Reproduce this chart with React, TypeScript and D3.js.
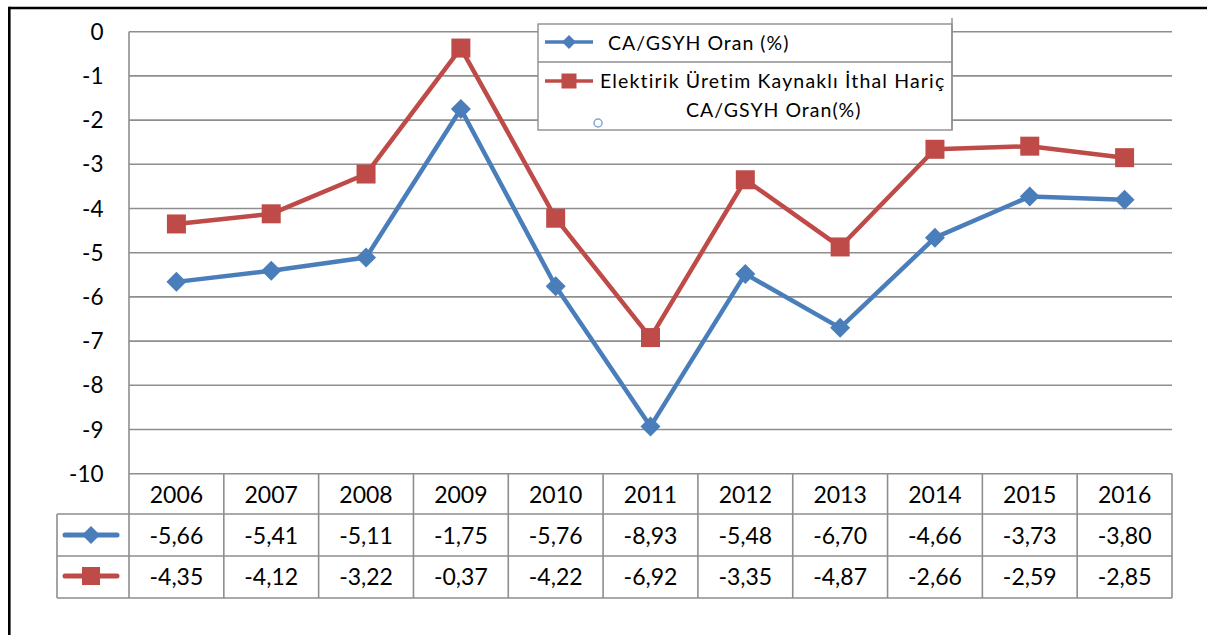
import React from "react";
import * as d3 from "d3";

const years = ["2006", "2007", "2008", "2009", "2010", "2011", "2012", "2013", "2014", "2015", "2016"];
const caValues = [-5.66, -5.41, -5.11, -1.75, -5.76, -8.93, -5.48, -6.7, -4.66, -3.73, -3.8];
const exclValues = [-4.35, -4.12, -3.22, -0.37, -4.22, -6.92, -3.35, -4.87, -2.66, -2.59, -2.85];
const yTicks = [0, -1, -2, -3, -4, -5, -6, -7, -8, -9, -10];
const seriesNames = ["CA/GSYH Oran (%)", "Elektirik Üretim Kaynaklı İthal Hariç", "CA/GSYH Oran(%)"];

const BLUE = "#4A7EBB";
const RED = "#BE4B48";
const GRID = "#8E8E8E";
const FONT = "Lato, 'Open Sans', sans-serif";

const fmt = (v: number) => v.toFixed(2).replace(".", ",");

function Diamond({ cx, cy, r, color }: { cx: number; cy: number; r: number; color: string }) {
  return <path d={`M${cx},${cy - r}L${cx + r},${cy}L${cx},${cy + r}L${cx - r},${cy}Z`} fill={color} />;
}
function Square({ cx, cy, s, color }: { cx: number; cy: number; s: number; color: string }) {
  return <rect x={cx - s / 2} y={cy - s / 2} width={s} height={s} fill={color} />;
}

export default function App() {
  const W = 1207, H = 635;
  const left = 129, right = 1172, top = 31.7, bottom = 473.7;
  const x = d3.scaleBand<string>().domain(years).range([left, right]);
  const y = d3.scaleLinear().domain([0, -10]).range([top, bottom]);
  const cx = (d: string) => (x(d) as number) + x.bandwidth() / 2;
  const line = d3.line<number>().x((_, i) => cx(years[i])).y((v) => y(v));

  const rows = [bottom, 514, 556, 598];
  const tableLeft = 57;

  return (
    <svg width={W} height={H} style={{ display: "block", position: "absolute", left: 0, top: 0 }} fontFamily={FONT}>
      <rect width={W} height={H} fill="#fff" />
      {/* frame */}
      <line x1={9.3} y1={8} x2={W} y2={8} stroke="#000" strokeWidth={2.6} />
      <line x1={9.3} y1={6.7} x2={9.3} y2={H} stroke="#000" strokeWidth={2.6} />

      {/* gridlines */}
      {yTicks.map((t) => (
        <line key={t} x1={left} x2={right} y1={y(t)} y2={y(t)} stroke={GRID} strokeWidth={1.6} />
      ))}
      <line x1={left} x2={left} y1={top} y2={rows[3]} stroke={GRID} strokeWidth={1.6} />
      {yTicks.map((t) => (
        <text key={t} x={103.5} y={y(t) + 8} textAnchor="end" fontSize={22.5} fill="#000">
          {t}
        </text>
      ))}

      {/* table */}
      {rows.slice(1).map((r) => (
        <line key={r} x1={tableLeft} x2={right} y1={r} y2={r} stroke={GRID} strokeWidth={1.6} />
      ))}
      <line x1={tableLeft} x2={tableLeft} y1={rows[1]} y2={rows[3]} stroke={GRID} strokeWidth={1.6} />
      {years.map((yr) => (
        <line key={yr} x1={(x(yr) as number) + x.bandwidth()} x2={(x(yr) as number) + x.bandwidth()} y1={rows[0]} y2={rows[3]} stroke={GRID} strokeWidth={1.6} />
      ))}
      {years.map((yr, i) => (
        <g key={yr} fontSize={23} fill="#000" textAnchor="middle">
          <text x={cx(yr)} y={503}>{yr}</text>
          <text x={cx(yr)} y={543.5}>{fmt(caValues[i])}</text>
          <text x={cx(yr)} y={585}>{fmt(exclValues[i])}</text>
        </g>
      ))}
      <line x1={65} x2={117} y1={535} y2={535} stroke={BLUE} strokeWidth={5} strokeLinecap="round" />
      <Diamond cx={91} cy={535} r={9} color={BLUE} />
      <line x1={65} x2={117} y1={576} y2={576} stroke={RED} strokeWidth={5} strokeLinecap="round" />
      <Square cx={91} cy={576} s={18} color={RED} />

      {/* series */}
      <path d={line(exclValues) as string} fill="none" stroke={RED} strokeWidth={4.5} strokeLinejoin="round" />
      <path d={line(caValues) as string} fill="none" stroke={BLUE} strokeWidth={4.5} strokeLinejoin="round" />
      {exclValues.map((v, i) => (
        <Square key={i} cx={cx(years[i])} cy={y(v)} s={19} color={RED} />
      ))}
      {caValues.map((v, i) => (
        <Diamond key={i} cx={cx(years[i])} cy={y(v)} r={10} color={BLUE} />
      ))}

      {/* legend */}
      <rect x={538} y={24} width={414} height={106} fill="#fff" stroke={GRID} strokeWidth={1.4} />
      <line x1={952} x2={952} y1={18} y2={130} stroke={GRID} strokeWidth={1.4} />
      <line x1={538} x2={952} y1={62} y2={62} stroke={GRID} strokeWidth={1.4} />
      <line x1={545} x2={593} y1={42} y2={42} stroke={BLUE} strokeWidth={3.5} />
      <Diamond cx={569} cy={42} r={7} color={BLUE} />
      <line x1={545} x2={593} y1={81} y2={81} stroke={RED} strokeWidth={3.5} />
      <Square cx={569} cy={81} s={15} color={RED} />
      <g fontSize={19.5} fill="#000">
        <text x={608} y={50} letterSpacing={1.0}>{seriesNames[0]}</text>
        <text x={600} y={88} letterSpacing={1.15}>{seriesNames[1]}</text>
        <text x={686} y={117} letterSpacing={1.0}>{seriesNames[2]}</text>
      </g>
      <circle cx={598} cy={123} r={4} fill="#fff" stroke="#7FA7D0" strokeWidth={1.5} />
    </svg>
  );
}
